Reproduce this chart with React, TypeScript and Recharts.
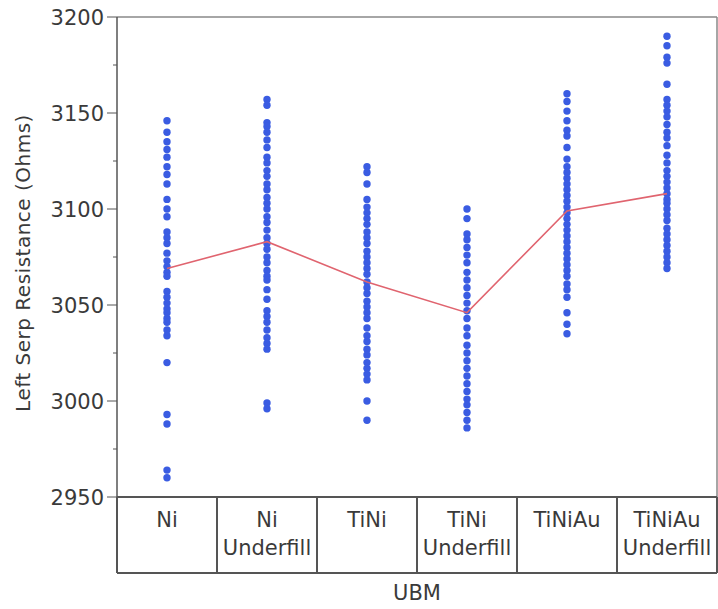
import React from 'react';
import { ScatterChart, Scatter, XAxis, YAxis, ReferenceLine } from 'recharts';

const categories = ['Ni', 'Ni Underfill', 'TiNi', 'TiNi Underfill', 'TiNiAu', 'TiNiAu Underfill'];

const niValues = [3146, 3140, 3135, 3131, 3127, 3122, 3118, 3113, 3105, 3100, 3096, 3088, 3085, 3082, 3077, 3073, 3070, 3067, 3065, 3057, 3054, 3051, 3048, 3046, 3043, 3041, 3037, 3034, 3020, 2993, 2988, 2964, 2960];
const niUnderfillValues = [3157, 3154, 3145, 3143, 3140, 3136, 3132, 3127, 3124, 3120, 3117, 3113, 3110, 3106, 3103, 3100, 3096, 3093, 3089, 3085, 3082, 3079, 3075, 3072, 3068, 3065, 3063, 3058, 3053, 3047, 3044, 3041, 3037, 3033, 3030, 3027, 2999, 2996];
const tiNiValues = [3122, 3119, 3113, 3105, 3101, 3098, 3095, 3092, 3088, 3085, 3082, 3078, 3075, 3072, 3069, 3066, 3062, 3059, 3056, 3052, 3049, 3046, 3043, 3038, 3034, 3031, 3027, 3024, 3020, 3017, 3014, 3011, 3000, 2990];
const tiNiUnderfillValues = [3100, 3095, 3087, 3084, 3080, 3076, 3072, 3067, 3063, 3059, 3055, 3051, 3047, 3043, 3038, 3034, 3029, 3025, 3021, 3017, 3013, 3009, 3005, 3001, 2998, 2994, 2990, 2986];
const tiNiAuValues = [3160, 3156, 3151, 3146, 3141, 3138, 3132, 3126, 3122, 3119, 3116, 3113, 3110, 3107, 3104, 3101, 3098, 3095, 3092, 3089, 3086, 3083, 3080, 3077, 3074, 3071, 3068, 3065, 3061, 3058, 3054, 3046, 3040, 3035];
const tiNiAuUnderfillValues = [3190, 3185, 3179, 3176, 3165, 3157, 3154, 3151, 3148, 3144, 3140, 3137, 3133, 3128, 3124, 3120, 3117, 3114, 3111, 3108, 3105, 3103, 3100, 3097, 3094, 3090, 3087, 3084, 3081, 3078, 3075, 3072, 3069];

const groupMeans = [3069, 3083, 3062, 3046, 3099, 3108];

const yTicks = [2950, 2975, 3000, 3025, 3050, 3075, 3100, 3125, 3150, 3175, 3200];

const groups = [niValues, niUnderfillValues, tiNiValues, tiNiUnderfillValues, tiNiAuValues, tiNiAuUnderfillValues];

const points = groups.flatMap((vals, i) => vals.map((v) => ({ x: i + 0.5, y: v })));
const meanPoints = groupMeans.map((m, i) => ({ x: i + 0.5, y: m }));
const xTicks = categories.map((_, i) => i + 0.5);

const FONT = '"DejaVu Sans", sans-serif';
const TEXT = '#3a3a3a';
const FRAME = '#555';
const DOT = '#3a5ce2';
const CELL_W = 100;
const CELL_H = 76;

function YTick(props: any) {
  const { x, y, payload } = props;
  const major = payload.value % 50 === 0;
  return (
    <g>
      <line x1={x - (major ? 10 : 4)} x2={x} y1={y} y2={y} stroke={FRAME} strokeWidth={1} />
      {major && (
        <text x={x - 13} y={y} dy="0.36em" textAnchor="end" fontSize={21} fontFamily={FONT} fill={TEXT}>
          {payload.value}
        </text>
      )}
    </g>
  );
}

// each tick draws its own cell of the category table under the plot
function CategoryCell(props: any) {
  const { x, y, payload, index } = props;
  const [top, bottom] = categories[Math.floor(payload.value)].split(' ');
  const left = x - CELL_W / 2;
  const right = x + CELL_W / 2;
  return (
    <g>
      {index === 0 && <line x1={left} x2={left} y1={y} y2={y + CELL_H} stroke={FRAME} strokeWidth={2} />}
      <line x1={right} x2={right} y1={y} y2={y + CELL_H} stroke={FRAME} strokeWidth={2} />
      <line x1={left} x2={right} y1={y + CELL_H} y2={y + CELL_H} stroke={FRAME} strokeWidth={2} />
      <text x={x} y={y + 30} textAnchor="middle" fontSize={21} fontFamily={FONT} fill={TEXT}>
        {top}
      </text>
      {bottom && (
        <text x={x} y={y + 58} textAnchor="middle" fontSize={21} fontFamily={FONT} fill={TEXT}>
          {bottom}
        </text>
      )}
    </g>
  );
}

const hiddenShape = () => <g />;
const dotShape = (p: any) => <circle cx={p.cx} cy={p.cy} r={3.7} fill={DOT} />;

export default function App() {
  return (
    <div style={{ position: 'absolute', left: 0, top: 0, width: 718, height: 609, background: '#fff' }}>
      <ScatterChart width={718} height={609} margin={{ top: 17, right: 1, bottom: 0, left: 0 }}>
        <XAxis
          type="number"
          dataKey="x"
          domain={[0, 6]}
          ticks={xTicks}
          interval={0}
          height={112}
          tickSize={0}
          tickMargin={0}
          tickLine={false}
          axisLine={{ stroke: FRAME, strokeWidth: 2 }}
          tick={<CategoryCell />}
          label={{ value: 'UBM', position: 'insideBottom', offset: 9, fontSize: 21, fontFamily: FONT, fill: TEXT }}
        />
        <YAxis
          type="number"
          dataKey="y"
          domain={[2950, 3200]}
          ticks={yTicks}
          interval={0}
          width={117}
          tickSize={0}
          tickMargin={0}
          tickLine={false}
          axisLine={{ stroke: FRAME, strokeWidth: 1.5 }}
          tick={<YTick />}
          label={{
            value: 'Left Serp Resistance (Ohms)',
            angle: -90,
            position: 'center',
            dx: -36,
            dy: 6,
            fontSize: 20,
            fontFamily: FONT,
            fill: TEXT,
            style: { letterSpacing: 0.5 },
          }}
        />
        <ReferenceLine y={3200} stroke="#888" strokeWidth={1.5} />
        <ReferenceLine x={6} stroke="#888" strokeWidth={1.5} />
        <Scatter data={points} fill={DOT} isAnimationActive={false} shape={dotShape} />
        <Scatter
          data={meanPoints}
          line={{ stroke: '#e0646f', strokeWidth: 1.6 }}
          lineType="joint"
          shape={hiddenShape}
          isAnimationActive={false}
        />
      </ScatterChart>
    </div>
  );
}
